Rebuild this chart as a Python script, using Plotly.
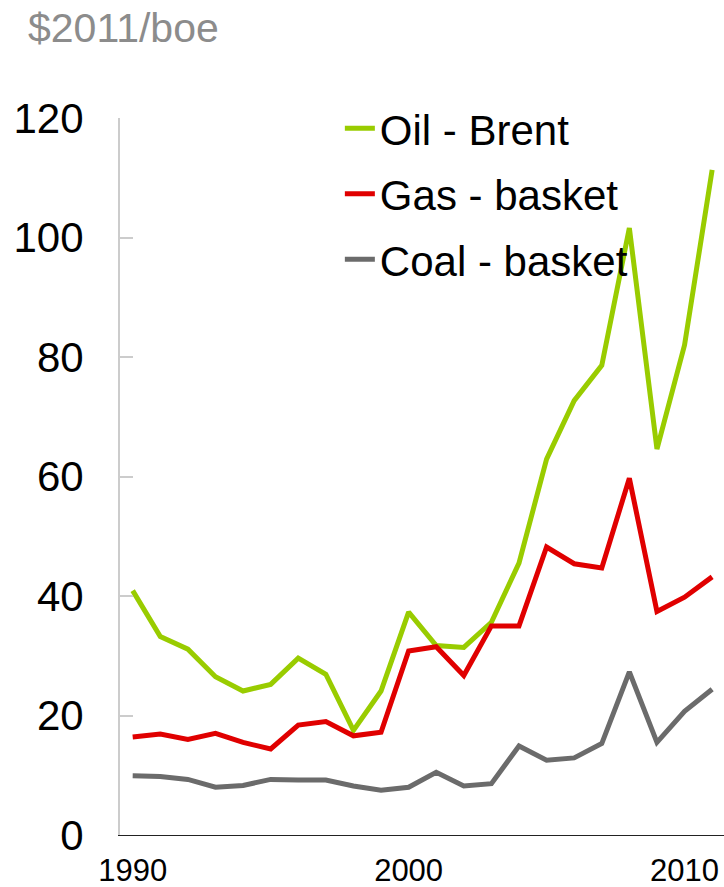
import plotly.graph_objects as go

years = list(range(1990, 2012))

oil_brent = [40.9, 33.2, 31.1, 26.5, 24.1, 25.2, 29.6, 26.9, 17.5, 24.1, 37.3,
             31.7, 31.4, 35.6, 45.5, 62.9, 72.7, 78.6, 101.6, 64.6, 82.0, 111.3]
gas_basket = [16.4, 16.9, 16.0, 17.0, 15.5, 14.4, 18.4, 19.0, 16.6, 17.2, 30.8,
              31.5, 26.7, 35.0, 35.0, 48.2, 45.4, 44.7, 59.7, 37.4, 39.8, 43.2]
coal_basket = [9.9, 9.8, 9.3, 8.0, 8.3, 9.3, 9.2, 9.2, 8.2, 7.5, 8.0,
               10.5, 8.2, 8.6, 14.9, 12.5, 12.9, 15.3, 27.3, 15.5, 20.7, 24.4]

series = [
    ("Oil - Brent", oil_brent, "#99cc00"),
    ("Gas - basket", gas_basket, "#e00000"),
    ("Coal - basket", coal_basket, "#6b6b6b"),
]

x_ticks = [1990, 2000, 2010]
y_ticks = [0, 20, 40, 60, 80, 100, 120]

FONT = "Liberation Sans, Arial, sans-serif"

fig = go.Figure()
for i, (name, values, color) in enumerate(series):
    fig.add_trace(go.Scatter(
        x=years, y=values, name=name, mode="lines",
        legendgroup=f"g{i}",
        line=dict(color=color, width=5),
    ))

fig.update_layout(
    width=724, height=887,
    margin=dict(l=120, r=0, t=118, b=52),
    paper_bgcolor="white", plot_bgcolor="white",
    font=dict(family=FONT, color="black"),
    showlegend=True,
    legend=dict(
        x=0.364, y=1.033, xanchor="left", yanchor="top",
        font=dict(size=42, family=FONT), bgcolor="rgba(0,0,0,0)",
        tracegroupgap=8,
    ),
    annotations=[dict(
        text="$2011/boe", xref="paper", yref="paper",
        x=-0.155, y=1.091, xanchor="left", yanchor="bottom",
        showarrow=False, font=dict(size=41, color="#8c8c8c", family=FONT),
    )],
)

# fixed margins: no automargin, so the plot area stays where the reference has it
fig.update_xaxes(
    range=[1989.54, 2011.43], automargin=False,
    tickvals=x_ticks, ticks="",
    showline=True, linecolor="#222222", linewidth=1,
    showgrid=False, zeroline=False,
    tickfont=dict(size=31), ticklabelstandoff=8,
)
fig.update_yaxes(
    range=[0, 120], automargin=False,
    tickvals=y_ticks,
    ticks="inside", ticklen=13, tickcolor="#cccccc", tickwidth=2,
    showline=True, linecolor="#cccccc", linewidth=2,
    showgrid=False, zeroline=False,
    tickfont=dict(size=42), ticklabelstandoff=26,
)

# drop the default body margin so the figure fills the window exactly
fig.write_html(
    "out.html",
    config={"displayModeBar": False},
    post_script="document.body.style.margin = '0';",
)
